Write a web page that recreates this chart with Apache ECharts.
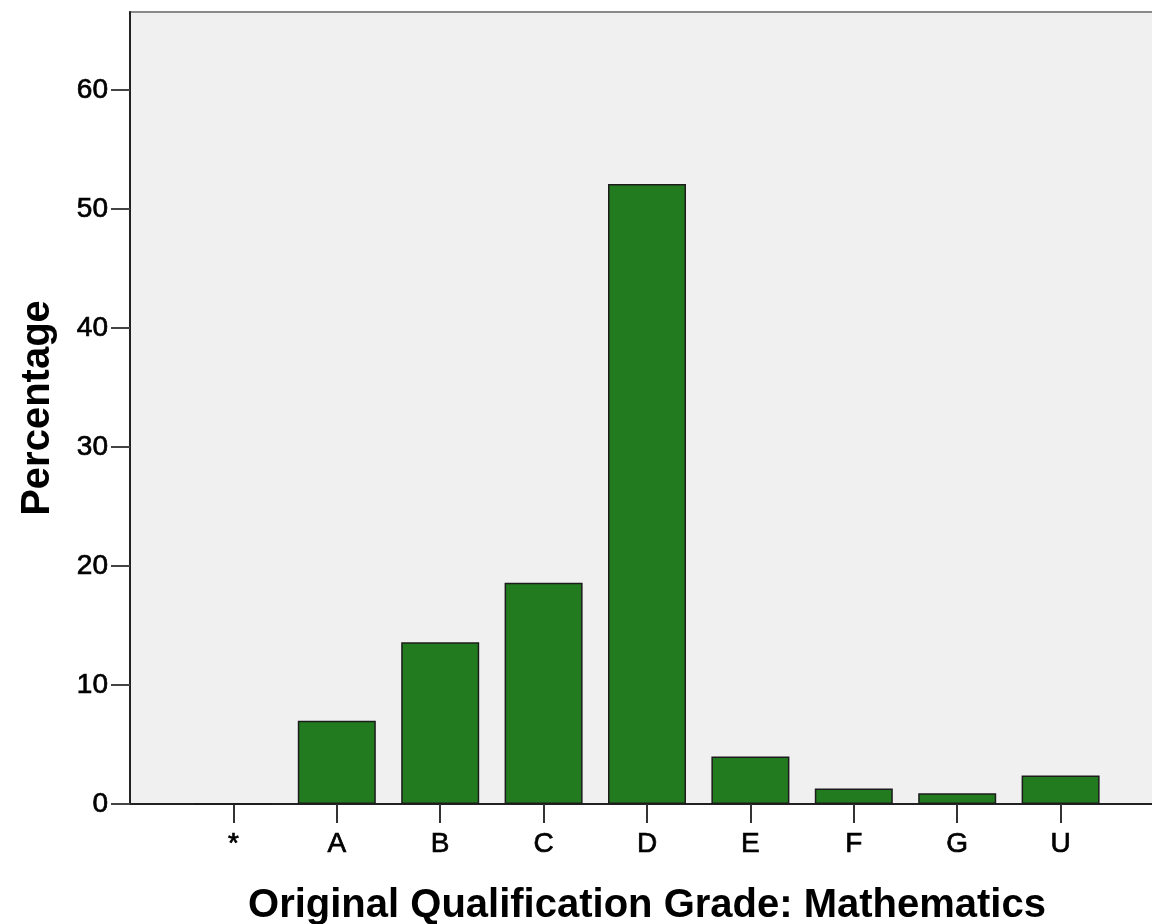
<!DOCTYPE html>
<html>
<head>
<meta charset="utf-8">
<script src="https://cdn.jsdelivr.net/npm/echarts@6/dist/echarts.min.js"></script>
<style>
html,body{margin:0;padding:0;background:#fff;}
#chart{width:1152px;height:924px;}
</style>
</head>
<body>
<div id="chart"></div>
<script>
const grades = ['', '*', 'A', 'B', 'C', 'D', 'E', 'F', 'G', 'U', ''];
const percentages = [null, 0, 7.0, 13.6, 18.6, 52.1, 4.0, 1.3, 0.9, 2.4, null];
const yTicks = [0, 10, 20, 30, 40, 50, 60];
const xTitle = 'Original Qualification Grade: Mathematics';
const yTitle = 'Percentage';

const chart = echarts.init(document.getElementById('chart'), null, {renderer: 'canvas'});
const font = 'Liberation Sans, Arial, sans-serif';
chart.setOption({
  animation: false,
  backgroundColor: '#ffffff',
  grid: {
    left: 130, top: 12, bottom: 120, right: -12,
    containLabel: false,
    outerBoundsMode: 'none',
    show: true, backgroundColor: '#F0F0F0',
    borderColor: '#8a8a8a', borderWidth: 2
  },
  xAxis: {
    type: 'category',
    data: grades,
    boundaryGap: false,
    name: xTitle,
    nameLocation: 'middle',
    nameGap: 82,
    nameTextStyle: {fontFamily: font, fontSize: 40, fontWeight: 'bold', color: '#000'},
    axisLine: {lineStyle: {color: '#222', width: 2}},
    axisTick: {show: true, length: 19, lineStyle: {color: '#333', width: 2},
      interval: (i, v) => v !== ''},
    axisLabel: {fontFamily: font, fontSize: 28, color: '#000', margin: 26,
      textBorderColor: '#000', textBorderWidth: 0.7,
      interval: 0},
    splitLine: {show: false}
  },
  yAxis: {
    type: 'value',
    min: 0, max: 66.55, interval: 10,
    name: yTitle,
    nameLocation: 'middle',
    nameGap: 72,
    nameRotate: 90,
    nameTextStyle: {fontFamily: font, fontSize: 40, fontWeight: 'bold', color: '#000'},
    axisLine: {show: true, lineStyle: {color: '#222', width: 2}},
    axisTick: {show: true, length: 19, lineStyle: {color: '#444', width: 2},
      customValues: yTicks},
    axisLabel: {fontFamily: font, fontSize: 28, color: '#000', margin: 22,
      textBorderColor: '#000', textBorderWidth: 0.7,
      customValues: yTicks},
    splitLine: {show: false}
  },
  series: [{
    type: 'bar',
    data: percentages,
    barWidth: 78,
    itemStyle: {color: '#237B1F', borderColor: '#1c1c1c', borderWidth: 1.5}
  }]
});
</script>
</body>
</html>
